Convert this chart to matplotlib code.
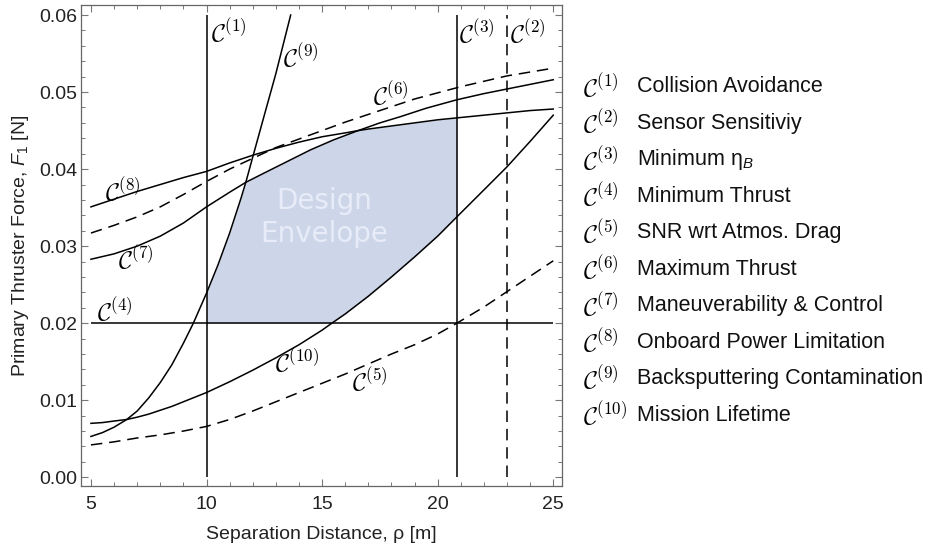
import numpy as np
import matplotlib.pyplot as plt
from matplotlib.ticker import FormatStrFormatter, MultipleLocator

plt.rcParams['font.family'] = ['Liberation Sans', 'DejaVu Sans']
plt.rcParams['mathtext.fontset'] = 'custom'
plt.rcParams['mathtext.rm'] = 'Liberation Sans'
plt.rcParams['mathtext.it'] = 'Liberation Sans:italic'

# plotted domain
rho_range = [5, 25]
force_range = [0.0, 0.06]

# straight constraints
rho_c1 = 10.0     # collision avoidance
rho_c3 = 20.83    # minimum eta_B
rho_c2 = 23.0     # sensor sensitivity
force_c4 = 0.02   # minimum thrust

# curved constraints
rho_c5 = [5, 6, 7, 8, 9, 10, 11, 12, 13, 14, 15, 16, 17, 18, 19, 20, 20.83, 22, 23, 24, 25]
force_c5 = [0.0042, 0.0046, 0.0051, 0.0055, 0.0060, 0.0066, 0.0075, 0.0086, 0.0098, 0.0110,
            0.0122, 0.0134, 0.0147, 0.0160, 0.0172, 0.0186, 0.0200, 0.0221, 0.0241, 0.0261, 0.0281]

rho_c6 = [5, 6, 7, 8, 9, 10, 11, 12, 13, 14, 15, 16, 17, 18, 19, 20, 21, 22, 23, 24, 25]
force_c6 = [0.0317, 0.0327, 0.0338, 0.0351, 0.0367, 0.0384, 0.0400, 0.0414, 0.0428, 0.0439,
            0.0450, 0.0461, 0.0471, 0.0481, 0.0491, 0.0499, 0.0507, 0.0514, 0.0521, 0.0526, 0.0531]

rho_c7 = [5, 6, 7, 8, 9, 10, 11, 11.71, 12.5, 13.5, 14.5, 15.5, 16.56, 17.5, 18.38, 19.5,
          20.83, 22, 23, 24, 25]
force_c7 = [0.0283, 0.0290, 0.0300, 0.0313, 0.0330, 0.0351, 0.0370, 0.0383, 0.0395, 0.0410,
            0.0425, 0.0438, 0.0450, 0.0460, 0.0468, 0.0479, 0.0490, 0.0498, 0.0504, 0.0510, 0.0516]

rho_c8 = [5, 6, 7, 8, 9, 10, 11, 12, 13, 14, 15, 16, 16.56, 17, 18, 19, 20, 21, 22, 23, 24, 25]
force_c8 = [0.0351, 0.0361, 0.0371, 0.0380, 0.0389, 0.0397, 0.0408, 0.0418, 0.0427, 0.0435,
            0.0442, 0.0447, 0.0450, 0.0452, 0.0456, 0.0460, 0.0464, 0.0467, 0.0470, 0.0473,
            0.0476, 0.0478]

rho_c9 = [5, 5.5, 6, 6.55, 7, 7.5, 8, 8.5, 9, 9.43, 10, 10.5, 11, 11.5, 11.71, 12.03,
          12.5, 13, 13.64]
force_c9 = [0.0053, 0.0058, 0.0065, 0.0075, 0.0086, 0.0103, 0.0123, 0.0146, 0.0174, 0.0200,
            0.0239, 0.0276, 0.0317, 0.0363, 0.0384, 0.0419, 0.0470, 0.0524, 0.0600]

rho_c10 = [5, 5.5, 6, 6.55, 7, 7.5, 8, 8.5, 9, 9.5, 10, 11, 12, 13, 14, 15, 15.42, 16, 17,
           18, 19, 20, 20.83, 22, 23, 24, 25]
force_c10 = [0.0070, 0.0071, 0.0073, 0.0075, 0.0078, 0.0082, 0.0087, 0.0092, 0.0098, 0.0104,
             0.0110, 0.0124, 0.0139, 0.0155, 0.0172, 0.0191, 0.0200, 0.0212, 0.0235, 0.0260,
             0.0286, 0.0313, 0.0338, 0.0373, 0.0403, 0.0436, 0.0470]

legend_names = ['Collision Avoidance', 'Sensor Sensitiviy', r'Minimum η$_{B}$',
                'Minimum Thrust', 'SNR wrt Atmos. Drag', 'Maximum Thrust',
                'Maneuverability & Control', 'Onboard Power Limitation',
                'Backsputtering Contamination', 'Mission Lifetime']

# label anchors (left edge, centre) for each constraint
label_pos = {1: (10.2, 0.0578), 2: (23.14, 0.0577), 3: (20.93, 0.0577),
             4: (5.26, 0.0216), 5: (16.3, 0.0125), 6: (17.2, 0.0496),
             7: (6.17, 0.0283), 8: (5.6, 0.0372), 9: (13.3, 0.0546),
             10: (12.97, 0.0150)}

fig = plt.figure(figsize=(9.3, 5.45), dpi=100)
ax = fig.add_axes([0.0871, 0.1083, 0.5175, 0.8825])

# design envelope
xg = np.linspace(rho_c1, rho_c3, 500)
upper = np.minimum.reduce([np.interp(xg, rho_c9, force_c9),
                           np.interp(xg, rho_c7, force_c7),
                           np.interp(xg, rho_c8, force_c8)])
lower = np.maximum(force_c4, np.interp(xg, rho_c10, force_c10))
ax.fill_between(xg, lower, upper, color='#cdd6e8', lw=0, zorder=1)
ax.text(15.1, 0.0337, 'Design\nEnvelope', ha='center', va='center',
        fontsize=20, color='#e8ecf8', family='DejaVu Sans', linespacing=1.2, zorder=2)

lw = 1.1
dash = (7.5, 4.5)
ax.vlines(rho_c1, *force_range, color='k', lw=lw, zorder=3)
ax.vlines(rho_c3, *force_range, color='k', lw=lw, zorder=3)
ax.plot([rho_c2, rho_c2], force_range, color='k', lw=lw, dashes=dash, zorder=3)
ax.hlines(force_c4, *rho_range, color='k', lw=lw, zorder=3)
ax.plot(rho_c5, force_c5, color='k', lw=lw, dashes=dash, zorder=3)
ax.plot(rho_c6, force_c6, color='k', lw=lw, dashes=dash, zorder=3)
ax.plot(rho_c7, force_c7, color='k', lw=lw, zorder=3)
ax.plot(rho_c8, force_c8, color='k', lw=lw, zorder=3)
ax.plot(rho_c9, force_c9, color='k', lw=lw, zorder=3)
ax.plot(rho_c10, force_c10, color='k', lw=lw, zorder=3)

for k, (lx, ly) in label_pos.items():
    ax.text(lx, ly, r'$\mathcal{C}^{(%d)}$' % k, ha='left', va='center',
            fontsize=17.5, math_fontfamily='cm', zorder=4)

ax.set_xlim(4.57, 25.39)
ax.set_ylim(-0.00113, 0.0613)
ax.xaxis.set_major_locator(MultipleLocator(5))
ax.xaxis.set_minor_locator(MultipleLocator(1))
ax.yaxis.set_major_locator(MultipleLocator(0.01))
ax.yaxis.set_minor_locator(MultipleLocator(0.002))
ax.yaxis.set_major_formatter(FormatStrFormatter('%.2f'))
ax.tick_params(which='both', direction='in', top=True, right=True, color='#777777')
ax.tick_params(which='major', length=5, width=0.8)
ax.tick_params(which='minor', length=3, width=0.7)
ax.tick_params(axis='x', labelsize=14, pad=7.5, labelcolor='#222222')
ax.tick_params(axis='y', labelsize=14, pad=2.5, labelcolor='#222222')
for s in ax.spines.values():
    s.set_color('#666666')
    s.set_linewidth(0.9)

ax.set_xlabel('Separation Distance, ρ [m]', fontsize=14, labelpad=9, color='#222222')
ax.set_ylabel('Primary Thruster Force, $F_1$ [N]', fontsize=14, labelpad=6, color='#222222')

# legend on the right
for i, name in enumerate(legend_names):
    yy = 1 - (86.7 + i * 36.5) / 545
    fig.text(583 / 930, yy, r'$\mathcal{C}^{(%d)}$' % (i + 1), ha='left', va='center',
             fontsize=17.5, math_fontfamily='cm')
    fig.text(637 / 930, yy, name, ha='left', va='center', fontsize=15.5, color='#111111')

fig.savefig('out.png', dpi=100)
